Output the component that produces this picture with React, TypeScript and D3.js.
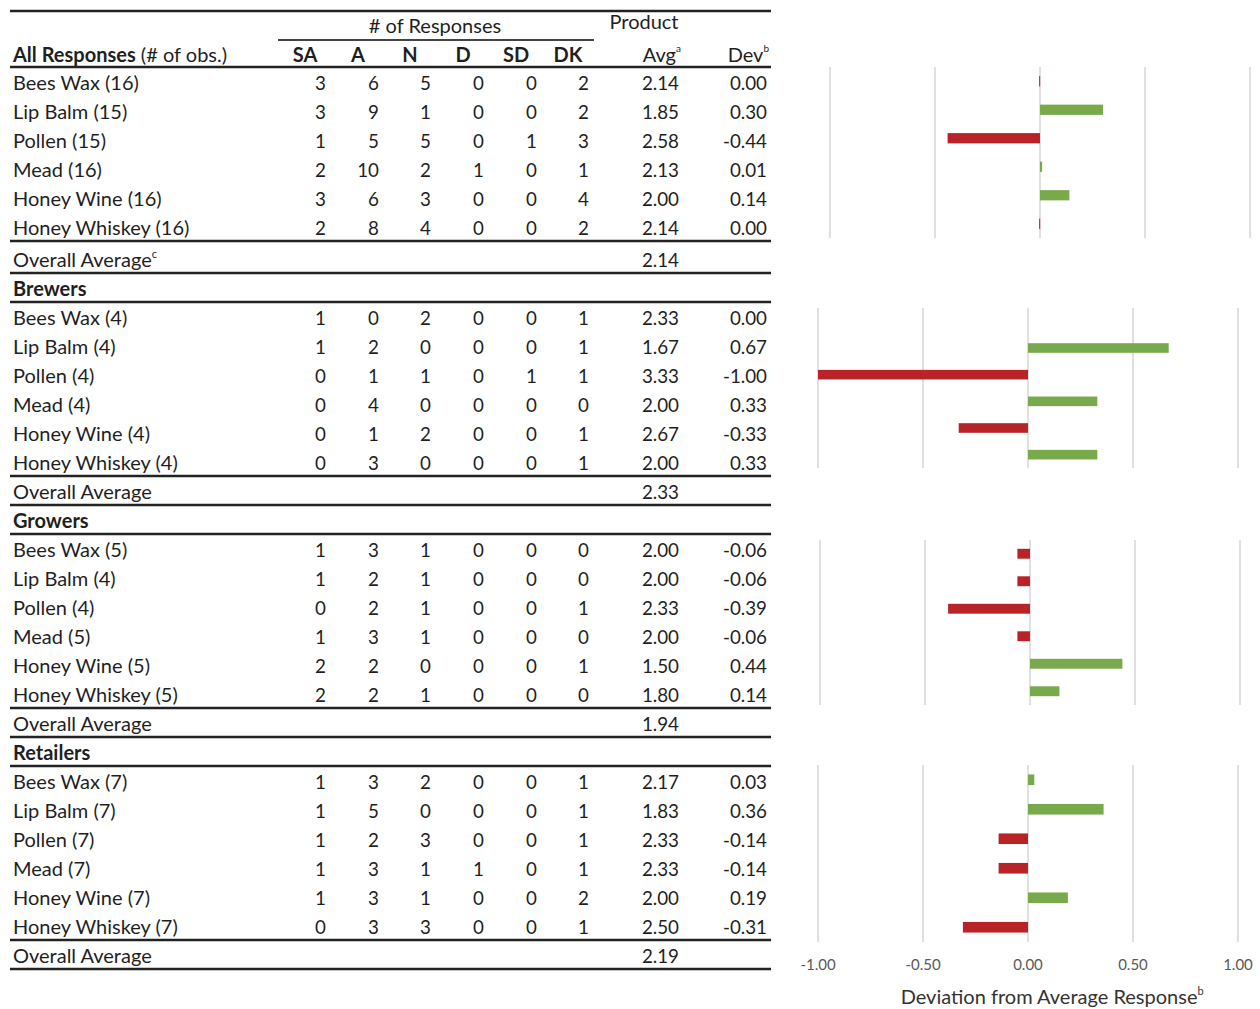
import React from "react";
import * as d3 from "d3";

const products = ["Bees Wax", "Lip Balm", "Pollen", "Mead", "Honey Wine", "Honey Whiskey"];
const groups = ["All Responses", "Brewers", "Growers", "Retailers"];
const responseCodes = ["SA", "A", "N", "D", "SD", "DK"];

const allObs = [16, 15, 15, 16, 16, 16];
const brewersObs = [4, 4, 4, 4, 4, 4];
const growersObs = [5, 4, 4, 5, 5, 5];
const retailersObs = [7, 7, 7, 7, 7, 7];

const allCounts = [
  [3, 6, 5, 0, 0, 2],
  [3, 9, 1, 0, 0, 2],
  [1, 5, 5, 0, 1, 3],
  [2, 10, 2, 1, 0, 1],
  [3, 6, 3, 0, 0, 4],
  [2, 8, 4, 0, 0, 2],
];
const brewersCounts = [
  [1, 0, 2, 0, 0, 1],
  [1, 2, 0, 0, 0, 1],
  [0, 1, 1, 0, 1, 1],
  [0, 4, 0, 0, 0, 0],
  [0, 1, 2, 0, 0, 1],
  [0, 3, 0, 0, 0, 1],
];
const growersCounts = [
  [1, 3, 1, 0, 0, 0],
  [1, 2, 1, 0, 0, 0],
  [0, 2, 1, 0, 0, 1],
  [1, 3, 1, 0, 0, 0],
  [2, 2, 0, 0, 0, 1],
  [2, 2, 1, 0, 0, 0],
];
const retailersCounts = [
  [1, 3, 2, 0, 0, 1],
  [1, 5, 0, 0, 0, 1],
  [1, 2, 3, 0, 0, 1],
  [1, 3, 1, 1, 0, 1],
  [1, 3, 1, 0, 0, 2],
  [0, 3, 3, 0, 0, 1],
];

const allAvg = [2.14, 1.85, 2.58, 2.13, 2.0, 2.14];
const brewersAvg = [2.33, 1.67, 3.33, 2.0, 2.67, 2.0];
const growersAvg = [2.0, 2.0, 2.33, 2.0, 1.5, 1.8];
const retailersAvg = [2.17, 1.83, 2.33, 2.33, 2.0, 2.5];

const allDev = [-0.004, 0.3, -0.44, 0.01, 0.14, -0.004];
const brewersDev = [0.0, 0.67, -1.0, 0.33, -0.33, 0.33];
const growersDev = [-0.06, -0.06, -0.39, -0.06, 0.44, 0.14];
const retailersDev = [0.03, 0.36, -0.14, -0.14, 0.19, -0.31];

const overallAvg = [2.14, 2.33, 1.94, 2.19];

const axisTicks = [-1, -0.5, 0, 0.5, 1];

const groupObs = [allObs, brewersObs, growersObs, retailersObs];
const groupCounts = [allCounts, brewersCounts, growersCounts, retailersCounts];
const groupAvg = [allAvg, brewersAvg, growersAvg, retailersAvg];
const groupDev = [allDev, brewersDev, growersDev, retailersDev];

const FONT = "Lato, 'Open Sans', sans-serif";
const TXT = "#1f1f1f";
const RED = "#b82327";
const GREEN = "#78aa4c";
const FS = 20; // label font size
const NS = 18.8; // number font size

const colRight = [326, 379, 431, 484, 537, 589];
const avgRight = 679;
const devRight = 767;
const tableLeft = 10;
const tableRight = 771;

const panels = [
  { x0: 830, x1: 1250, y0: 67, y1: 238 },
  { x0: 818, x1: 1238, y0: 308, y1: 468 },
  { x0: 820, x1: 1240, y0: 540, y1: 705 },
  { x0: 818, x1: 1238, y0: 765, y1: 942 },
];

const locale = d3.formatLocale({
  decimal: ".",
  thousands: ",",
  grouping: [3],
  currency: ["", ""],
  minus: "-",
});
const fmt2 = locale.format(".2f");
const fmtDev = (v: number) => {
  const s = fmt2(v);
  return s === "-0.00" ? "0.00" : s;
};

export default function App() {
  const pitch = 29;
  const tdy = 1.5;
  const lines: { y: number; x0: number; x1: number; w: number }[] = [];
  const rowsOut: React.ReactNode[] = [];
  let y = 88;
  groups.forEach((g, gi) => {
    if (gi > 0) {
      rowsOut.push(
        <text key={`gh${gi}`} x={13} y={y + tdy} fontWeight={700} fontSize={FS} fill={TXT}>
          {g}
        </text>
      );
      lines.push({ y: y + 8, x0: tableLeft, x1: tableRight, w: 2.5 });
      y += pitch;
    }
    products.forEach((p, pi) => {
      rowsOut.push(
        <g key={`r${gi}-${pi}`} fill={TXT}>
          <text x={13} y={y + tdy} fontSize={FS}>{`${p} (${groupObs[gi][pi]})`}</text>
          {groupCounts[gi][pi].map((c, ci) => (
            <text key={ci} x={colRight[ci]} y={y + tdy} textAnchor="end" fontSize={NS}>
              {c}
            </text>
          ))}
          <text x={avgRight} y={y + tdy} textAnchor="end" fontSize={NS}>
            {fmt2(groupAvg[gi][pi])}
          </text>
          <text x={devRight} y={y + tdy} textAnchor="end" fontSize={NS}>
            {fmtDev(groupDev[gi][pi])}
          </text>
        </g>
      );
      if (pi === products.length - 1) lines.push({ y: y + 8, x0: tableLeft, x1: tableRight, w: 2.5 });
      y += pitch;
    });
    if (gi === 0) y += 3;
    rowsOut.push(
      <g key={`o${gi}`} fill={TXT}>
        <text x={13} y={y + tdy} fontSize={FS}>
          Overall Average
          {gi === 0 ? (
            <tspan fontSize={11} dy={-9}>
              c
            </tspan>
          ) : null}
        </text>
        <text x={avgRight} y={y + tdy} textAnchor="end" fontSize={NS}>
          {fmt2(overallAvg[gi])}
        </text>
      </g>
    );
    lines.push({ y: y + 8, x0: tableLeft, x1: tableRight, w: 2.5 });
    y += pitch;
  });

  return (
    <svg
      width={1260}
      height={1009}
      style={{ position: "absolute", left: 0, top: 0, background: "#fff" }}
      fontFamily={FONT}
    >
      {/* header */}
      <line x1={tableLeft} x2={tableRight} y1={11} y2={11} stroke="#222" strokeWidth={2.5} />
      <text x={435} y={33} textAnchor="middle" fontSize={FS} fill={TXT}>
        # of Responses
      </text>
      <line x1={278} x2={594} y1={40} y2={40} stroke="#444" strokeWidth={2.2} />
      <text x={644} y={29} textAnchor="middle" fontSize={FS} fill={TXT}>
        Product
      </text>
      <text x={13} y={62} fontSize={FS} fill={TXT}>
        <tspan fontWeight={700}>All Responses</tspan>
        <tspan> (# of obs.)</tspan>
      </text>
      {responseCodes.map((c, i) => (
        <text key={c} x={colRight[i] - 21} y={62} textAnchor="middle" fontWeight={700} fontSize={FS} fill={TXT}>
          {c}
        </text>
      ))}
      <text x={avgRight + 2} y={62} textAnchor="end" fontSize={FS} fill={TXT}>
        Avg<tspan fontSize={10} dy={-10}>a</tspan>
      </text>
      <text x={devRight + 2} y={62} textAnchor="end" fontSize={FS} fill={TXT}>
        Dev<tspan fontSize={10} dy={-10}>b</tspan>
      </text>
      <line x1={tableLeft} x2={tableRight} y1={67} y2={67} stroke="#222" strokeWidth={2.5} />

      {rowsOut}
      {lines.map((l, i) => (
        <line key={i} x1={l.x0} x2={l.x1} y1={l.y} y2={l.y} stroke="#222" strokeWidth={l.w} />
      ))}

      {/* bar panels */}
      {panels.map((pn, gi) => {
        const x = d3.scaleLinear().domain([-1, 1]).range([pn.x0, pn.x1]);
        const yb = d3
          .scaleBand<string>()
          .domain(products)
          .range([pn.y0, pn.y1])
          .paddingInner(0.64)
          .paddingOuter(0.32);
        return (
          <g key={`p${gi}`}>
            {axisTicks.map((t) => (
              <line key={t} x1={x(t)} x2={x(t)} y1={pn.y0} y2={pn.y1} stroke="#d9d9d9" strokeWidth={1.6} />
            ))}
            {products.map((p, pi) => {
              const v = groupDev[gi][pi];
              if (v === 0) return null;
              const xa = x(Math.min(0, v));
              const xb = x(Math.max(0, v));
              return (
                <rect
                  key={p}
                  x={xa}
                  y={yb(p)}
                  width={Math.max(1, xb - xa)}
                  height={yb.bandwidth()}
                  fill={v < 0 ? RED : GREEN}
                />
              );
            })}
            {gi === panels.length - 1 &&
              axisTicks.map((t) => (
                <text key={`t${t}`} x={x(t)} y={970} textAnchor="middle" fontSize={15} fill="#595959">
                  {fmt2(t)}
                </text>
              ))}
            {gi === panels.length - 1 && (
              <text x={x(0.115)} y={1004} textAnchor="middle" fontSize={20} fill="#333">
                Deviation from Average Response<tspan fontSize={11} dy={-9}>b</tspan>
              </text>
            )}
          </g>
        );
      })}
    </svg>
  );
}
